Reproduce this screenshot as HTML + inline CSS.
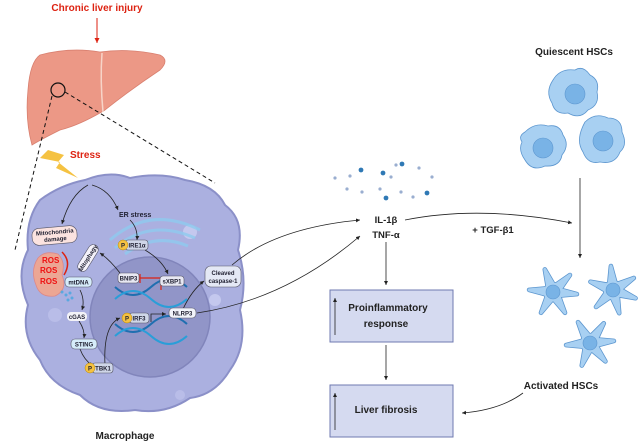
<!DOCTYPE html>
<html><head><meta charset="utf-8"><style>
html,body{margin:0;padding:0;background:#fff;}
svg{display:block;font-family:"Liberation Sans",sans-serif;}
.l{font-weight:bold;fill:#222;}
.s{font-size:6px;font-weight:bold;fill:#223;}
</style></head><body>
<svg width="642" height="443" viewBox="0 0 642 443">
<defs>
<marker id="a" markerWidth="6" markerHeight="6" refX="5" refY="3" orient="auto"><path d="M0,0.5 L5,3 L0,5.5z" fill="#222"/></marker>
<marker id="ar" markerWidth="6" markerHeight="6" refX="5" refY="3" orient="auto"><path d="M0,0.5 L5,3 L0,5.5z" fill="#d21"/></marker>
<path id="star" d="M-5.4,-5.9 L-8.2,-22.6 L0.3,-8 L3.1,-7.4 L17,-17 L7.4,-3.1 L7.6,-2.3 L23.9,2.1 L7.1,3.6 L6.3,4.9 L12,20.8 L1.1,7.9 L-1.1,7.9 L-12,20.8 L-6.3,4.9 L-7.6,2.3 L-23.9,-2.1 L-7.1,-3.6z" stroke-linejoin="round"/>
</defs>
<text x="97" y="11" text-anchor="middle" font-size="10" font-weight="bold" fill="#d21">Chronic liver injury</text>
<line x1="97" y1="18" x2="97" y2="43" stroke="#d21" stroke-width="1" marker-end="url(#ar)"/>
<path d="M40,55 Q70,47 100,52 Q130,48 160,55 Q170,60 160,70 Q130,90 105,110 Q80,125 60,130 Q40,140 32,145 Q25,120 28,90 Q30,62 40,55z" fill="#ec9886" stroke="#d98070" stroke-width="0.8"/>
<path d="M102,53 Q100,80 103,112" stroke="#f7d4c8" stroke-width="1.5" fill="none"/>
<circle cx="58" cy="90" r="7" fill="none" stroke="#111" stroke-width="1.2"/>
<line x1="52" y1="96" x2="15" y2="250" stroke="#111" stroke-dasharray="4,3" stroke-width="1"/>
<line x1="65" y1="92" x2="215" y2="183" stroke="#111" stroke-dasharray="4,3" stroke-width="1"/>
<path d="M48,150 L64,155 L58,162 L78,178 L56,168 L60,162 L40,158z" fill="#f5c242"/>
<text x="70" y="158" font-size="10" font-weight="bold" fill="#d21">Stress</text>
<path d="M40,200 Q60,185 85,180 Q110,170 130,178 Q160,172 185,180 Q215,185 225,205 Q245,220 238,250 Q248,280 240,310 Q248,345 230,370 Q215,395 190,398 Q165,415 135,410 Q100,415 80,395 Q50,385 40,360 Q20,335 28,305 Q15,275 28,250 Q25,220 40,200z" fill="#abb0e0" stroke="#8b90c8" stroke-width="2"/>
<circle cx="150" cy="317" r="60" fill="#9195c8" stroke="#8185bb" stroke-width="1.5"/>
<circle cx="190" cy="232" r="7" fill="#c4c8ee"/><circle cx="55" cy="315" r="7" fill="#b9bde8"/><circle cx="215" cy="300" r="6" fill="#c4c8ee"/><circle cx="180" cy="395" r="5" fill="#b9bde8"/>
<g fill="none" stroke="#8fcbef" stroke-width="3" opacity="0.8">
<path d="M110,240 Q150,205 200,230"/><path d="M115,248 Q150,218 195,238"/><path d="M125,254 Q155,232 188,246"/>
</g>
<text x="119" y="217" font-size="7" font-weight="bold" fill="#223">ER stress</text>
<path d="M88,185 Q70,195 62,224" fill="none" stroke="#222" stroke-width="0.8" marker-end="url(#a)"/>
<path d="M92,185 Q110,190 118,210" fill="none" stroke="#222" stroke-width="0.8" marker-end="url(#a)"/>
<path d="M130,220 Q138,228 137,240" fill="none" stroke="#222" stroke-width="0.8" marker-end="url(#a)"/>
<path d="M145,250 Q162,260 168,274" fill="none" stroke="#222" stroke-width="0.8" marker-end="url(#a)"/>
<path d="M120,273 Q110,260 100,253" fill="none" stroke="#222" stroke-width="0.8" marker-end="url(#a)"/>
<path d="M80,290 Q85,300 82,310" fill="none" stroke="#222" stroke-width="0.8" marker-end="url(#a)"/>
<path d="M79,321 Q85,330 84,338" fill="none" stroke="#222" stroke-width="0.8" marker-end="url(#a)"/>
<path d="M80,349 Q84,360 93,366" fill="none" stroke="#222" stroke-width="0.8" marker-end="url(#a)"/>
<path d="M105,365 Q103,325 120,318" fill="none" stroke="#222" stroke-width="0.8" marker-end="url(#a)"/>
<path d="M151,322 L151,314 L166,314" fill="none" stroke="#222" stroke-width="0.8" marker-end="url(#a)"/>
<path d="M183,309 Q192,290 204,281" fill="none" stroke="#222" stroke-width="0.8" marker-end="url(#a)"/>
<path d="M140,278 L161,278 L161,290" fill="none" stroke="#d21" stroke-width="1.2"/>
<line x1="140" y1="274" x2="140" y2="283" stroke="#d21" stroke-width="1.2"/>
<g fill="none" stroke-width="2">
<path d="M115,287 Q133,303 151,287 Q169,271 187,287" stroke="#1f6fb0"/><path d="M115,299 Q133,283 151,299 Q169,315 187,299" stroke="#2a9ed8"/>
<path d="M115,324 Q133,340 151,324 Q169,308 187,324" stroke="#1f6fb0"/><path d="M115,336 Q133,320 151,336 Q169,352 187,336" stroke="#2a9ed8"/>
</g>
<path d="M38,258 Q45,250 58,254 Q66,262 62,275 Q68,290 55,296 Q40,298 36,285 Q30,270 38,258z" fill="#eca694" stroke="#d88" stroke-width="0.8"/>
<path d="M62,252 Q72,262 64,275" fill="none" stroke="#d21" stroke-width="1.5"/>
<text x="42" y="263" font-size="8" font-weight="bold" fill="#e11">ROS</text>
<text x="40" y="273" font-size="8" font-weight="bold" fill="#e11">ROS</text>
<text x="40" y="284" font-size="8" font-weight="bold" fill="#e11">ROS</text>
<g fill="#5aa8e0"><circle cx="62" cy="292" r="1.5"/><circle cx="66" cy="295" r="1.5"/><circle cx="70" cy="293" r="1.5"/><circle cx="72" cy="298" r="1.5"/><circle cx="68" cy="300" r="1.5"/></g>
<rect x="32" y="227" width="45" height="17" rx="7" fill="#fbe3e0" stroke="#556" stroke-width="0.6" transform="rotate(-5 55 235)"/>
<text x="55" y="234" text-anchor="middle" class="s" font-size="5.5" transform="rotate(-5 55 235)">Mitochondria</text>
<text x="55" y="241" text-anchor="middle" class="s" font-size="5.5" transform="rotate(-5 55 235)">damage</text>
<g transform="rotate(-58 88 258)"><rect x="73" y="253" width="30" height="10" rx="5" fill="#f4f2fa" stroke="#556" stroke-width="0.6"/><text x="88" y="260" text-anchor="middle" class="s" font-size="5.5">Mitophagy</text></g>
<rect x="65" y="277" width="27" height="10" rx="4" fill="#d6ecfa" stroke="#556" stroke-width="0.6"/><text x="78.5" y="284.5" text-anchor="middle" class="s">mtDNA</text>
<rect x="67" y="312" width="20" height="9" rx="4" fill="#f3f3f8"/><text x="77" y="319" text-anchor="middle" class="s">cGAS</text>
<rect x="71" y="339" width="26" height="10" rx="4" fill="#d6ecfa" stroke="#556" stroke-width="0.6"/><text x="84" y="346.5" text-anchor="middle" class="s">STING</text>
<rect x="92" y="363" width="21" height="10" rx="3" fill="#cfd6e8" stroke="#556" stroke-width="0.6"/><text x="103" y="370.5" text-anchor="middle" class="s">TBK1</text>
<circle cx="90" cy="368" r="5" fill="#f5c242" stroke="#b80" stroke-width="0.5"/><text x="90" y="370.5" text-anchor="middle" class="s">P</text>
<rect x="125" y="240" width="23" height="10" rx="3" fill="#cfd6e8" stroke="#556" stroke-width="0.6"/><text x="137" y="247.5" text-anchor="middle" class="s">IRE1α</text>
<circle cx="123" cy="245" r="5" fill="#f5c242" stroke="#b80" stroke-width="0.5"/><text x="123" y="247.5" text-anchor="middle" class="s">P</text>
<rect x="118" y="273" width="21" height="10" rx="3" fill="#e8e8f3" stroke="#556" stroke-width="0.6"/><text x="128.5" y="280.5" text-anchor="middle" class="s">BNIP3</text>
<rect x="160" y="276" width="24" height="10" rx="3" fill="#e8e8f3" stroke="#556" stroke-width="0.6"/><text x="172" y="283.5" text-anchor="middle" class="s">sXBP1</text>
<rect x="129" y="313" width="20" height="10" rx="3" fill="#cfd6e8" stroke="#556" stroke-width="0.6"/><text x="139" y="320.5" text-anchor="middle" class="s">IRF3</text>
<circle cx="127" cy="318" r="5" fill="#f5c242" stroke="#b80" stroke-width="0.5"/><text x="127" y="320.5" text-anchor="middle" class="s">P</text>
<rect x="169" y="308" width="27" height="10" rx="4" fill="#f1f3fa" stroke="#556" stroke-width="0.6"/><text x="182.5" y="315.5" text-anchor="middle" class="s">NLRP3</text>
<rect x="205" y="266" width="36" height="21" rx="6" fill="#e4e8f5" stroke="#556" stroke-width="0.6"/><text x="223" y="275" text-anchor="middle" class="s">Cleaved</text><text x="223" y="283" text-anchor="middle" class="s">caspase-1</text>
<text x="125" y="439" text-anchor="middle" font-size="10" font-weight="bold" fill="#222">Macrophage</text>
<path d="M232,265 Q275,228 360,220" fill="none" stroke="#222" stroke-width="0.8" marker-end="url(#a)"/>
<path d="M197,313 Q285,300 360,236" fill="none" stroke="#222" stroke-width="0.8" marker-end="url(#a)"/>
<g fill="#2f79b5"><circle cx="361" cy="170" r="2.4"/><circle cx="383" cy="173" r="2.4"/><circle cx="402" cy="164" r="2.4"/><circle cx="386" cy="198" r="2.4"/><circle cx="427" cy="193" r="2.4"/></g>
<g fill="#9aaed0"><circle cx="335" cy="178" r="1.6"/><circle cx="350" cy="176" r="1.6"/><circle cx="347" cy="189" r="1.6"/><circle cx="362" cy="192" r="1.6"/><circle cx="380" cy="189" r="1.6"/><circle cx="391" cy="177" r="1.6"/><circle cx="396" cy="165" r="1.6"/><circle cx="401" cy="192" r="1.6"/><circle cx="413" cy="197" r="1.6"/><circle cx="419" cy="168" r="1.6"/><circle cx="432" cy="177" r="1.6"/></g>
<text x="386" y="223" text-anchor="middle" font-size="9.5" class="l">IL-1β</text>
<text x="386" y="238" text-anchor="middle" font-size="9.5" class="l">TNF-α</text>
<path d="M405,220 Q480,205 572,223" fill="none" stroke="#222" stroke-width="0.8" marker-end="url(#a)"/>
<text x="493" y="233" text-anchor="middle" font-size="9.5" class="l">+ TGF-β1</text>
<line x1="386" y1="242" x2="386" y2="285" stroke="#222" stroke-width="0.8" marker-end="url(#a)"/>
<line x1="386" y1="345" x2="386" y2="380" stroke="#222" stroke-width="0.8" marker-end="url(#a)"/>
<rect x="330" y="290" width="123" height="52" style="fill:#d5daf0;stroke:#6f7ab0"/>
<line x1="335" y1="335" x2="335" y2="298" stroke="#222" stroke-width="0.8" marker-end="url(#a)"/>
<text x="388" y="311" text-anchor="middle" font-size="10" class="l">Proinflammatory</text>
<text x="386" y="327" text-anchor="middle" font-size="10" class="l">response</text>
<rect x="330" y="385" width="123" height="52" style="fill:#d5daf0;stroke:#6f7ab0"/>
<line x1="335" y1="430" x2="335" y2="393" stroke="#222" stroke-width="0.8" marker-end="url(#a)"/>
<text x="386" y="413" text-anchor="middle" font-size="10" class="l">Liver fibrosis</text>
<text x="574" y="55" text-anchor="middle" font-size="10" class="l">Quiescent HSCs</text>
<g fill="#a8d0f2" stroke="#5c96cf" stroke-width="0.8">
<path d="M553,80 Q560,68 575,70 Q583,65 590,75 Q600,80 597,92 Q600,105 588,110 Q580,120 568,113 Q555,115 552,103 Q545,92 553,80z"/>
<path d="M525,132 Q535,122 548,126 Q560,124 563,135 Q570,145 562,155 Q560,167 545,166 Q532,172 525,160 Q518,150 522,142 Q518,136 525,132z"/>
<path d="M585,122 Q595,112 608,118 Q622,118 622,132 Q628,145 620,152 Q615,165 600,162 Q588,165 583,152 Q575,140 585,122z"/>
</g>
<g fill="#79b3e6" stroke="#5c96cf" stroke-width="0.6"><circle cx="575" cy="94" r="10"/><circle cx="543" cy="148" r="10"/><circle cx="603" cy="141" r="10"/></g>
<line x1="580" y1="178" x2="580" y2="258" stroke="#222" stroke-width="0.8" marker-end="url(#a)"/>
<g fill="#5c96cf" stroke="#5c96cf" stroke-width="4.6">
<use href="#star" transform="translate(553,292)"/>
<use href="#star" transform="translate(613,290) rotate(15)"/>
<use href="#star" transform="translate(590,343) rotate(-10)"/>
</g>
<g fill="#a8d0f2" stroke="#a8d0f2" stroke-width="3">
<use href="#star" transform="translate(553,292)"/>
<use href="#star" transform="translate(613,290) rotate(15)"/>
<use href="#star" transform="translate(590,343) rotate(-10)"/>
</g>
<g fill="#79b3e6" stroke="#5c96cf" stroke-width="0.6"><circle cx="553" cy="292" r="7"/><circle cx="613" cy="290" r="7"/><circle cx="590" cy="343" r="7"/></g>
<text x="561" y="389" text-anchor="middle" font-size="10" class="l">Activated HSCs</text>
<path d="M523,393 Q500,410 462,413" fill="none" stroke="#222" stroke-width="0.8" marker-end="url(#a)"/>
</svg>
</body></html>
